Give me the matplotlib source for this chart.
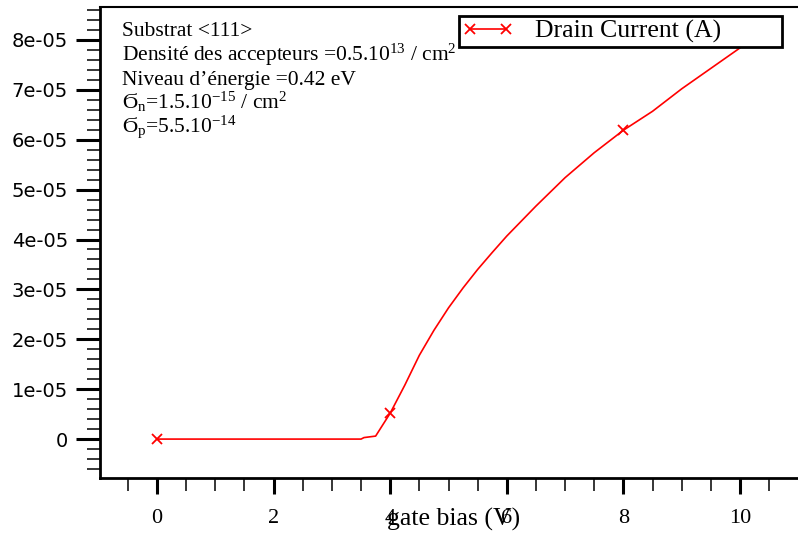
import matplotlib
matplotlib.use('Agg')
import matplotlib.pyplot as plt
from matplotlib.ticker import MultipleLocator, FuncFormatter

plt.rcParams['mathtext.fontset'] = 'custom'
plt.rcParams['mathtext.rm'] = 'Liberation Serif'
plt.rcParams['mathtext.it'] = 'Liberation Serif:italic'
plt.rcParams['mathtext.fallback'] = 'stix'

# --- data (current in units of 1e-5 A) ---
gate_bias = [0, 1, 2, 3, 3.5, 3.55, 3.75, 4.0, 4.25, 4.5, 4.75, 5.0, 5.25,
             5.5, 5.75, 6.0, 6.5, 7.0, 7.5, 8.0, 8.5, 9.0, 9.5, 10.0]
drain_e5 = [0, 0, 0, 0, 0, 0.03, 0.06, 0.52, 1.08, 1.68, 2.18, 2.63, 3.03,
            3.40, 3.74, 4.07, 4.67, 5.24, 5.74, 6.19, 6.57, 7.02, 7.43, 7.84]
drain_current = [v * 1e-5 for v in drain_e5]
marker_bias = [0, 4, 8]

info_lines = [
    'Substrat <111>',
    r'Densité des accepteurs =0.5.10$^{13}$ / cm$^{2}$',
    'Niveau d\u2019énergie =0.42 eV',
    r'Ϭ$_{\mathrm{n}}$=1.5.10$^{\mathrm{-15}}$ / cm$^{2}$',
    r'Ϭ$_{\mathrm{p}}$=5.5.10$^{\mathrm{-14}}$',
]

serif = ['Liberation Serif', 'DejaVu Serif']

fig = plt.figure(figsize=(7.98, 5.33), dpi=100)
fig.patch.set_facecolor('white')
ax = fig.add_axes([100 / 798, 55 / 533, 698 / 798, 471 / 533])

marks = [gate_bias.index(b) for b in marker_bias]
ax.plot(gate_bias, drain_current, color='red', lw=1.2, marker='x',
        markersize=7, markeredgewidth=1.3, markevery=marks,
        label='Drain Current (A)')

ax.set_xlim(-0.978, 10.995)
ax.set_ylim(-0.78e-5, 8.66e-5)

ax.xaxis.set_major_locator(MultipleLocator(2))
ax.xaxis.set_minor_locator(MultipleLocator(0.5))
ax.yaxis.set_major_locator(MultipleLocator(1e-5))
ax.yaxis.set_minor_locator(MultipleLocator(0.2e-5))
ax.yaxis.set_major_formatter(FuncFormatter(lambda v, p: '0' if abs(v) < 1e-12 else f'{v:.0e}'))

ax.spines['right'].set_visible(False)
ax.spines['top'].set_linewidth(1.5)
ax.spines['left'].set_linewidth(2)
ax.spines['bottom'].set_linewidth(2)

ax.tick_params(axis='y', which='major', direction='out', length=17, width=2.2,
               labelsize=14, pad=6)
ax.tick_params(axis='y', which='minor', direction='out', length=9.5, width=1.1)
ax.tick_params(axis='x', which='major', direction='out', length=11.5, width=2.2,
               labelsize=16, pad=11, labelfontfamily='Liberation Serif')
ax.tick_params(axis='x', which='minor', direction='out', length=9.4, width=1.1)

ax.set_xlabel('gate bias (V)', fontsize=18.5, family=serif)
ax.xaxis.label.set_va('center')
ax.xaxis.set_label_coords(0.506, -0.089)

leg = ax.legend(loc='upper left', bbox_to_anchor=(0.514, 0.909, 0.463, 0.072),
                mode='expand', numpoints=2, handlelength=2.0, handletextpad=0.8,
                borderpad=0.15, borderaxespad=0, fancybox=False, framealpha=1,
                prop={'family': serif, 'size': 18.5})
leg.get_frame().set_edgecolor('black')
leg.get_frame().set_linewidth(2)

baselines = [36, 61, 85, 109, 132]
for line, yb in zip(info_lines, baselines):
    fig.text(122 / 798, 1 - yb / 533, line, fontsize=15.5, family=serif,
             va='baseline', ha='left')

plt.savefig('out.png', dpi=100, facecolor='white')
